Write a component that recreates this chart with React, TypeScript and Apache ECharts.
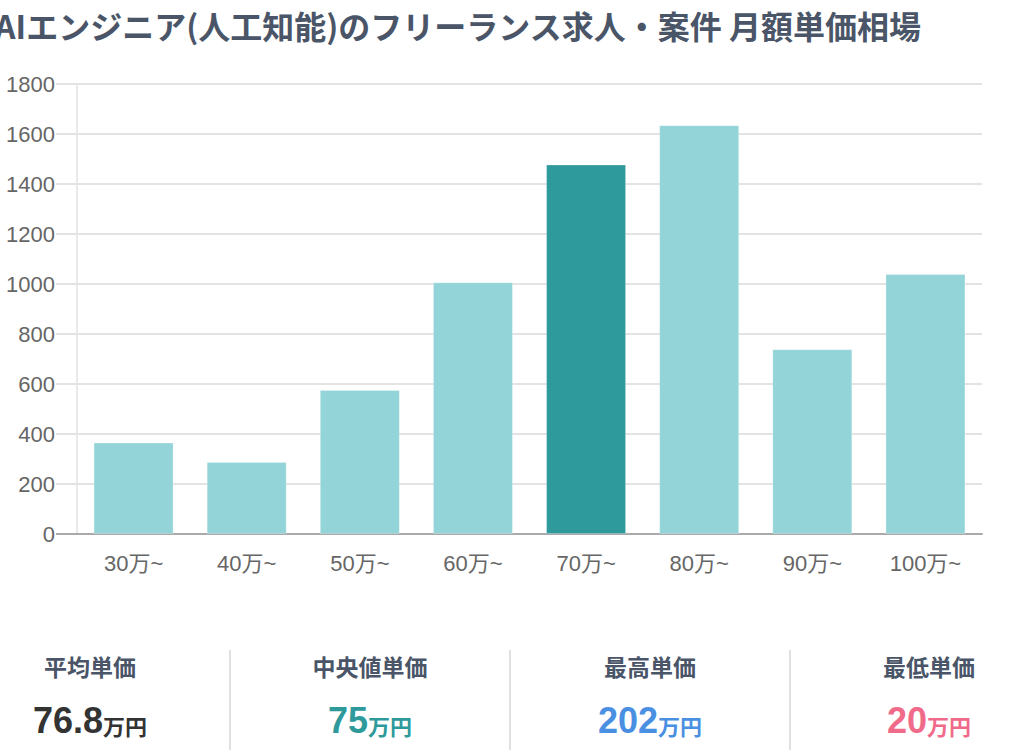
import React, { useEffect, useRef } from "react";
import * as echarts from "echarts";

const titleText = "AIエンジニア(人工知能)のフリーランス求人・案件 月額単価相場";
const categories = ["30万~", "40万~", "50万~", "60万~", "70万~", "80万~", "90万~", "100万~"];
const counts = [366, 288, 576, 1007, 1478, 1635, 739, 1040];
const highlightIndex = 4;
const yTicks = { min: 0, max: 1800, interval: 200 };

const statLabels = ["平均単価", "中央値単価", "最高単価", "最低単価"];
const statValues = ["76.8", "75", "202", "20"];
const statUnit = "万円";
const statColors = ["#333333", "#2e9a9c", "#4a90e2", "#f06a8a"];

const FONT = "'Liberation Sans', Arial, 'Noto Sans CJK JP', sans-serif";
const CJK = "'Noto Sans CJK JP', 'Liberation Sans', sans-serif";

export default function App() {
  const ref = useRef<HTMLDivElement>(null);
  useEffect(() => {
    if (!ref.current) return;
    const chart = echarts.init(ref.current, null, { renderer: "svg" });

    const colCenters = [90, 370, 650, 929];
    const dividers = [230, 510, 790];
    const graphics: any[] = [
      {
        type: "text",
        x: 921,
        y: 25,
        style: {
          text: titleText,
          fill: "#4a5568",
          font: `bold 32px ${CJK}`,
          align: "right",
          verticalAlign: "middle",
        },
      },
    ];
    dividers.forEach((x) => {
      graphics.push({
        type: "line",
        shape: { x1: x, y1: 650, x2: x, y2: 750 },
        style: { stroke: "#e0e0e0", lineWidth: 2 },
      });
    });
    statLabels.forEach((lab, i) => {
      graphics.push({
        type: "text",
        x: colCenters[i],
        y: 666,
        style: {
          text: lab,
          fill: "#4a5568",
          font: `bold 23px ${CJK}`,
          align: "center",
          verticalAlign: "middle",
        },
      });
      graphics.push({
        type: "text",
        x: colCenters[i],
        y: 738,
        style: {
          text: `{v|${statValues[i]}}{u|${statUnit}}`,
          align: "center",
          verticalAlign: "bottom",
          rich: {
            v: {
              fontSize: 36,
              fontWeight: "bold",
              fontFamily: FONT,
              fill: statColors[i],
              color: statColors[i],
              lineHeight: 40,
              verticalAlign: "bottom",
            },
            u: {
              fontSize: 22,
              fontWeight: "bold",
              fontFamily: CJK,
              fill: statColors[i],
              color: statColors[i],
              lineHeight: 40,
              verticalAlign: "bottom",
              padding: [0, 0, 2, 0],
            },
          },
        },
      });
    });

    const gridLeft = 77;
    chart.setOption({
      animation: false,
      backgroundColor: "#ffffff",
      grid: { left: gridLeft, right: 43, top: 84, bottom: 220, containLabel: false },
      xAxis: {
        type: "category",
        data: categories,
        axisLine: { show: true, lineStyle: { color: "#aaaaaa", width: 2 } },
        axisTick: { show: false },
        axisLabel: { color: "#666666", fontSize: 22, fontFamily: FONT, margin: 18 },
        splitLine: { show: false },
      },
      yAxis: {
        type: "value",
        min: yTicks.min,
        max: yTicks.max,
        interval: yTicks.interval,
        axisLine: { show: true, lineStyle: { color: "#e3e3e3", width: 1.5 } },
        axisTick: { show: true, length: 21, lineStyle: { color: "#e3e3e3", width: 2 } },
        axisLabel: {
          color: "#666666",
          fontSize: 22,
          fontFamily: FONT,
          margin: 22,
          formatter: (v: number) => String(v),
        },
        splitLine: { show: true, lineStyle: { color: "#e3e3e3", width: 2 } },
      },
      series: [
        {
          type: "bar",
          barWidth: "70.7%",
          data: counts.map((v, i) => ({
            value: v,
            itemStyle: { color: i === highlightIndex ? "#2e9a9c" : "#92d4d8" },
          })),
          itemStyle: { borderColor: "rgba(255,255,255,0.25)", borderWidth: 1 },
        },
      ],
      graphic: graphics,
    });

    const zeroY = chart.convertToPixel({ yAxisIndex: 0 }, 0) as number;
    chart.setOption({
      graphic: [
        ...graphics,
        {
          type: "line",
          shape: { x1: gridLeft - 21, y1: zeroY, x2: gridLeft, y2: zeroY },
          style: { stroke: "#aaaaaa", lineWidth: 2 },
          z: 10,
        },
      ],
    });
    return () => chart.dispose();
  }, []);
  return (
    <div
      ref={ref}
      style={{ position: "absolute", left: 0, top: 0, width: 1025, height: 754, background: "#fff" }}
    />
  );
}
